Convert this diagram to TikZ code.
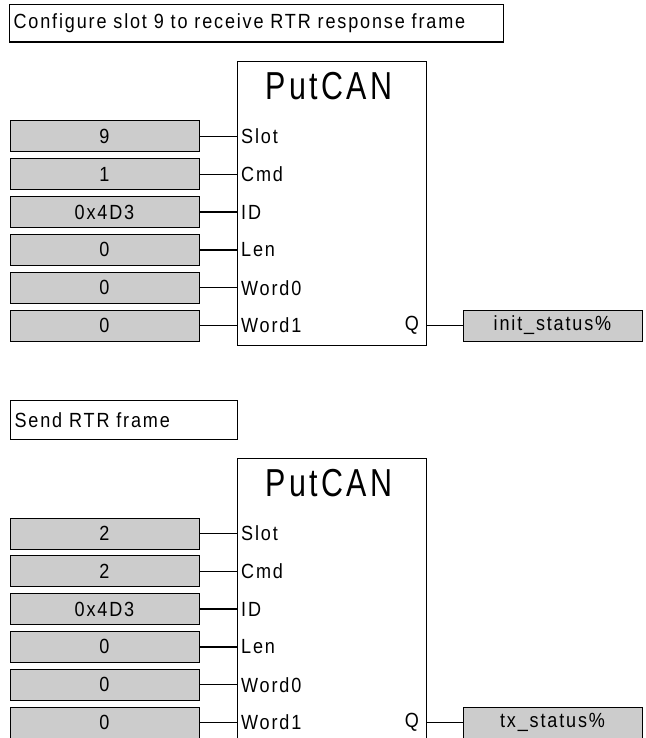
\documentclass[tikz,border=0pt]{standalone}
\usepackage{fontspec}
\setmainfont{Liberation Sans}[FakeStretch=0.88, LetterSpace=9]
\newfontfamily\titlefont{Liberation Sans}[FakeStretch=0.78, LetterSpace=9]
\definecolor{boxgray}{HTML}{CCCCCC}
\tikzset{
  inbox/.style={draw=black, fill=boxgray, line width=1pt, minimum width=189pt, minimum height=31pt, inner sep=0pt, font=\fontsize{20.5}{22}\selectfont},
  outbox/.style={inbox, minimum width=179pt},
  fblock/.style={draw=black, line width=1.3pt, minimum width=189pt, minimum height=284pt, inner sep=0pt, anchor=north west},
  ftitle/.style={font=\titlefont\fontsize{39}{42}\selectfont, inner sep=0pt},
  port/.style={font=\fontsize{20.5}{22}\selectfont, inner sep=0pt},
  cmt/.style={draw=black, line width=1.2pt, anchor=north west, inner xsep=4pt, inner ysep=0pt, align=left, font=\fontsize{20.5}{22}\selectfont},
  wire/.style={line width=1.4pt}
}
\begin{document}
\begin{tikzpicture}[x=1pt,y=-1pt]
\clip (0,0) rectangle (645,738);
\fill[white] (0,0) rectangle (645,738);
% ---------- first block ----------
\node[cmt, text width=486pt, minimum height=37.5pt] (c1) at (9,4) {Configure slot 9 to receive RTR response frame};
\node[fblock] (b1) at (237,61) {};
\node[ftitle] (t1) at (329,86) {PutCAN};
\foreach \v/\p [count=\i] in {9/Slot,1/Cmd,0x4D3/ID,0/Len,0/Word0,0/Word1}{
  \node[inbox] (a-in\i) at (104.5,{136.5+37.8*(\i-1)}) {\v};
  \node[port, anchor=west] (a-l\i) at (241,{136.5+37.8*(\i-1)}) {\p};
  \draw[wire] (a-in\i.east) -- (a-in\i.east -| b1.west);
}
\node[outbox] (a-out) at (552.5,325.5) {init\_status\%};
\node[port, anchor=east] (a-q) at (419,325.5) {Q};
\draw[wire] (a-out.west -| b1.east) -- (a-out.west);
% ---------- second block ----------
\node[cmt, text width=219pt, minimum height=39pt] (c2) at (10,400) {Send RTR frame};
\node[fblock] (b2) at (237,458) {};
\node[ftitle] (t2) at (329,483) {PutCAN};
\foreach \v/\p [count=\i] in {2/Slot,2/Cmd,0x4D3/ID,0/Len,0/Word0,0/Word1}{
  \node[inbox] (b-in\i) at (104.5,{533.5+37.8*(\i-1)}) {\v};
  \node[port, anchor=west] (b-l\i) at (241,{533.5+37.8*(\i-1)}) {\p};
  \draw[wire] (b-in\i.east) -- (b-in\i.east -| b2.west);
}
\node[outbox] (b-out) at (552.5,722.5) {tx\_status\%};
\node[port, anchor=east] (b-q) at (419,722.5) {Q};
\draw[wire] (b-out.west -| b2.east) -- (b-out.west);
\end{tikzpicture}
\end{document}
